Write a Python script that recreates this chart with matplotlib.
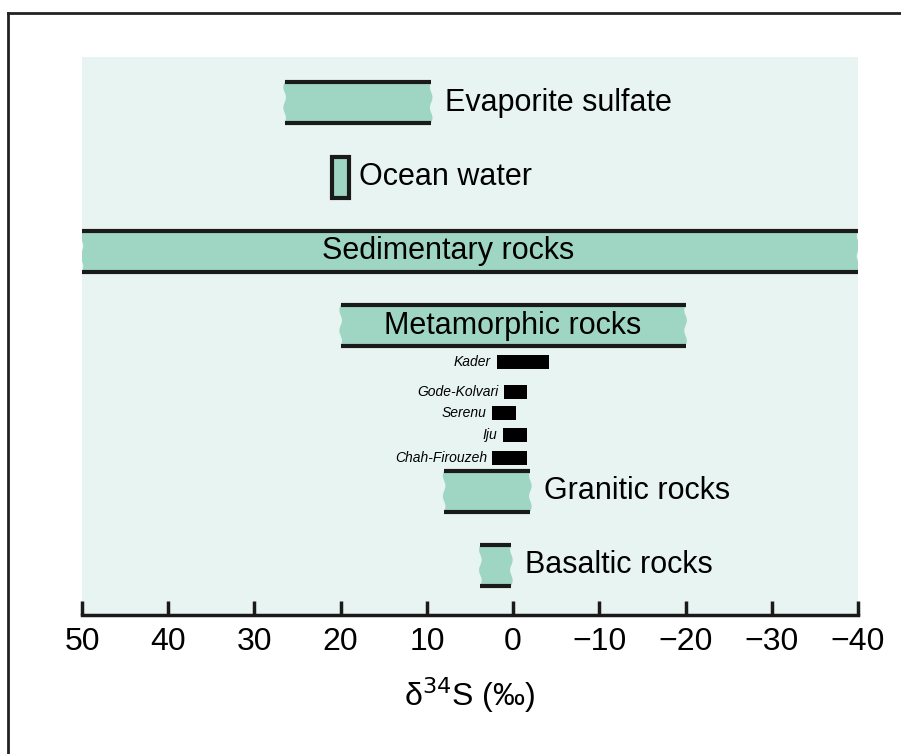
import numpy as np
import matplotlib.pyplot as plt
from matplotlib.lines import Line2D

# delta34S ranges (permil)
rock_names = ['Evaporite sulfate', 'Ocean water', 'Sedimentary rocks',
              'Metamorphic rocks', 'Granitic rocks', 'Basaltic rocks']
rock_lo = [9.5, 19.0, -40.0, -20.0, -2.0, 0.2]
rock_hi = [26.5, 21.0, 50.0, 20.0, 8.0, 3.8]

deposit_names = ['Kader', 'Gode-Kolvari', 'Serenu', 'Iju', 'Chah-Firouzeh']
deposit_lo = [-4.2, -1.6, -0.3, -1.6, -1.6]
deposit_hi = [1.9, 1.0, 2.4, 1.2, 2.4]

x_ticks = [50, 40, 30, 20, 10, 0, -10, -20, -30, -40]

# layout (vertical placement of the rows)
rock_y = [102.5, 177, 251, 325.5, 491, 565]
rock_h = 41
deposit_y = [362, 391.5, 413, 435, 457.5]
deposit_h = 14

MINT = '#9fd6c3'
BG = '#e8f4f1'

plt.rcParams['font.family'] = ['Liberation Sans', 'DejaVu Sans']

fig = plt.figure(figsize=(9.01, 7.54), dpi=100)
ax = fig.add_axes([82 / 901, 1 - 615 / 754, (858 - 82) / 901, (615 - 57) / 754])
ax.set_facecolor(BG)
ax.set_xlim(50, -40)
ax.set_ylim(615, 57)


def wavy_bar(lo, hi, yc, h):
    t = np.linspace(-0.5, 0.5, 40)
    wig = 0.15 * np.sin(t * 2 * np.pi * 2)
    ys = yc + t * h
    xs = np.concatenate([lo + wig, (hi + wig)[::-1]])
    yy = np.concatenate([ys, ys[::-1]])
    ax.fill(xs, yy, color=MINT, lw=0, zorder=2)
    ax.hlines([yc - h / 2, yc + h / 2], hi, lo, color='#1a1a1a', lw=3, zorder=3)


for i, name in enumerate(rock_names):
    lo, hi, yc = rock_lo[i], rock_hi[i], rock_y[i]
    if name == 'Ocean water':
        ax.barh(yc, lo - hi, left=hi, height=rock_h, color=MINT,
                edgecolor='#1a1a1a', lw=3, zorder=3)
    else:
        wavy_bar(lo, hi, yc, rock_h)
    if name == 'Sedimentary rocks':
        ax.text(7.5, yc, name, ha='center', va='center', fontsize=22, zorder=4)
    elif name == 'Metamorphic rocks':
        ax.text((lo + hi) / 2, yc, name, ha='center', va='center', fontsize=22, zorder=4)
    else:
        off = 10 if name == 'Ocean water' else 14
        ax.annotate(name, (lo, yc), xytext=(off * 0.72, 0), textcoords='offset points',
                    ha='left', va='center', fontsize=22)

for i, name in enumerate(deposit_names):
    lo, hi, yc = deposit_lo[i], deposit_hi[i], deposit_y[i]
    ax.barh(yc, lo - hi, left=hi, height=deposit_h, color='black', lw=0, zorder=3)
    ax.annotate(name, (hi, yc), xytext=(-4, 0), textcoords='offset points',
                ha='right', va='center', fontsize=10, style='italic')

for s in ['top', 'left', 'right']:
    ax.spines[s].set_visible(False)
ax.spines['bottom'].set_linewidth(2.5)
ax.spines['bottom'].set_color('#1a1a1a')
ax.set_yticks([])
ax.set_xticks(x_ticks)
ax.set_xticklabels([str(v).replace('-', '\u2212') for v in x_ticks], fontsize=23)
ax.tick_params(axis='x', direction='in', length=10, width=2.5, pad=9, color='#1a1a1a')
ax.set_xlabel('\u03b4$^{34}$S (\u2030)', fontsize=23, labelpad=13)

# frame around the figure (only top/left visible in the crop)
fig.add_artist(Line2D([8 / 901, 8 / 901], [0, 1 - 13 / 754], color='#222222', lw=2))
fig.add_artist(Line2D([8 / 901, 1], [1 - 13 / 754, 1 - 13 / 754], color='#222222', lw=2))

fig.savefig('out.png', dpi=100)
